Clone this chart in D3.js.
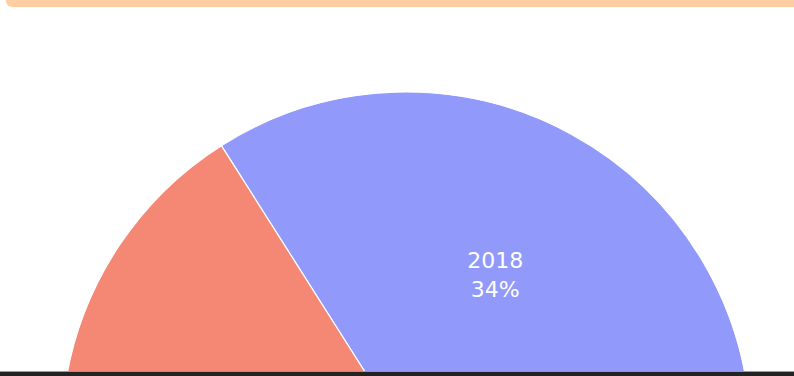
<!DOCTYPE html>
<html>
<head>
<meta charset="utf-8">
<script src="https://cdn.jsdelivr.net/npm/d3@7"></script>
<style>
  html, body { margin: 0; padding: 0; background: #ffffff; }
  svg { display: block; }
</style>
</head>
<body>
<svg id="chart" width="794" height="376"></svg>
<script>
// Share of entries per year
const years = ["2018", "2019", "2020", "2021"];
const shares = [34, 28, 22, 16];
const sliceColors = ["#636efa", "#EF553B", "#00cc96", "#ab63fa"];

const W = 794, H = 376;
const svg = d3.select("#chart");

// header band across the top
svg.append("rect")
  .attr("x", 6).attr("y", -8)
  .attr("width", W + 10).attr("height", 15)
  .attr("rx", 6)
  .attr("fill", "#FFCFA3");

// pie geometry (the lower part runs past the bottom of the view)
const cx = 406, cy = 436.6, R = 344.6;

const pie = d3.pie()
  .sort(null)
  .value(d => d)
  .startAngle(Math.PI / 2)
  .endAngle(Math.PI / 2 - 2 * Math.PI);

const arcs = pie(shares);
const arc = d3.arc().innerRadius(0).outerRadius(R);
const labelArc = d3.arc().innerRadius(R * 0.537).outerRadius(R * 0.537);

const g = svg.append("g").attr("transform", `translate(${cx},${cy})`);

g.selectAll("path.slice")
  .data(arcs)
  .join("path")
  .attr("class", "slice")
  .attr("d", arc)
  .attr("fill", (d, i) => sliceColors[i])
  .attr("fill-opacity", 0.7)
  .attr("stroke", "#ffffff")
  .attr("stroke-width", 1.2);

// only slices whose label sits inside the visible area get a label
const total = d3.sum(shares);
const visible = arcs.filter(d => {
  const [x, y] = labelArc.centroid(d);
  return cy + y + 30 < H && cy + y - 30 > 0 && cx + x > 0 && cx + x < W;
});

const labels = g.selectAll("text.lbl")
  .data(visible)
  .join("text")
  .attr("class", "lbl")
  .attr("transform", d => `translate(${labelArc.centroid(d)})`)
  .attr("text-anchor", "middle")
  .attr("fill", "#ffffff")
  .style("font-family", "'DejaVu Sans', Verdana, sans-serif")
  .style("font-size", "22px");

labels.append("tspan")
  .attr("x", 0).attr("y", -6)
  .text(d => years[d.index]);
labels.append("tspan")
  .attr("x", 0).attr("y", 23)
  .text(d => Math.round(d.value / total * 100) + "%");

// dark strip along the bottom edge
svg.append("rect")
  .attr("x", 0).attr("y", 371)
  .attr("width", W).attr("height", 1)
  .attr("fill", "#9a9a9a");
svg.append("rect")
  .attr("x", 0).attr("y", 372)
  .attr("width", W).attr("height", 4)
  .attr("fill", "#232323");
</script>
</body>
</html>
